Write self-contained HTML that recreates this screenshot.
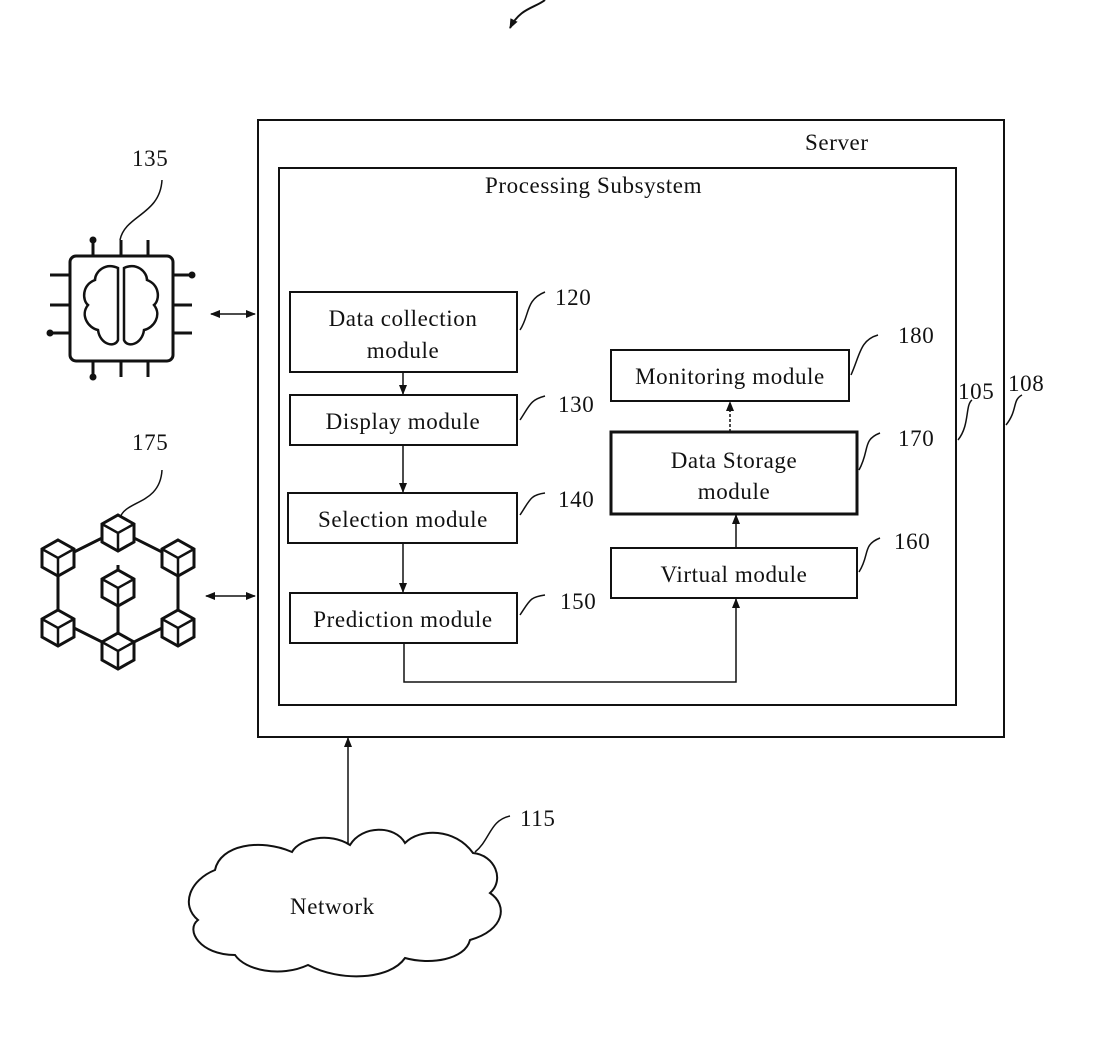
<!DOCTYPE html>
<html><head><meta charset="utf-8"><style>
html,body{margin:0;padding:0;background:#fff;}
svg text{font-family:"Liberation Serif",serif;fill:#111;}
</style></head><body>
<svg width="1116" height="1045" viewBox="0 0 1116 1045" xmlns="http://www.w3.org/2000/svg">
<defs>
<marker id="a" markerWidth="10" markerHeight="10" refX="9" refY="5" orient="auto" markerUnits="userSpaceOnUse"><path d="M0,1 L10,5 L0,9 z" fill="#111"/></marker>
<marker id="b" markerWidth="10" markerHeight="10" refX="1" refY="5" orient="auto" markerUnits="userSpaceOnUse"><path d="M10,1 L0,5 L10,9 z" fill="#111"/></marker>
</defs>
<g fill="none" stroke="#111" stroke-width="2">
<path d="M545,0 C535,8 520,8 510,28" stroke-width="2" marker-end="url(#a)"/>
<rect x="258" y="120" width="746" height="617"/>
<rect x="279" y="168" width="677" height="537"/>
<rect x="290" y="292" width="227" height="80"/>
<rect x="290" y="395" width="227" height="50"/>
<rect x="288" y="493" width="229" height="50"/>
<rect x="290" y="593" width="227" height="50"/>
<rect x="611" y="350" width="238" height="51"/>
<rect x="611" y="432" width="246" height="82" stroke-width="3"/>
<rect x="611" y="548" width="246" height="50"/>
<g stroke-width="1.5">
<line x1="403" y1="372" x2="403" y2="394" marker-end="url(#a)"/>
<line x1="403" y1="445" x2="403" y2="492" marker-end="url(#a)"/>
<line x1="403" y1="543" x2="403" y2="592" marker-end="url(#a)"/>
<polyline points="404,643 404,682 736,682 736,599" marker-end="url(#a)"/>
<line x1="736" y1="548" x2="736" y2="515" marker-end="url(#a)"/>
<line x1="730" y1="432" x2="730" y2="402" stroke-dasharray="3,2" marker-end="url(#a)"/>
<line x1="211" y1="314" x2="255" y2="314" marker-start="url(#b)" marker-end="url(#a)"/>
<line x1="206" y1="596" x2="255" y2="596" marker-start="url(#b)" marker-end="url(#a)"/>
<line x1="348" y1="843" x2="348" y2="738" marker-end="url(#a)"/>
<path d="M520,330 C530,315 525,300 545,292"/>
<path d="M520,420 C530,405 530,400 545,396"/>
<path d="M520,515 C530,500 530,495 545,493"/>
<path d="M520,615 C530,600 530,597 545,595"/>
<path d="M851,375 C860,355 860,340 878,335"/>
<path d="M859,470 C870,450 862,440 880,433"/>
<path d="M859,572 C870,555 862,545 880,538"/>
<path d="M958,440 C970,425 965,405 972,400"/>
<path d="M1006,425 C1018,410 1012,400 1022,395"/>
<path d="M475,852 C490,840 490,820 510,816"/>
<path d="M120,240 C125,215 160,215 162,180"/>
<path d="M120,518 C125,500 160,505 162,470"/>
</g>
<g stroke-width="3">
<rect x="70" y="256" width="103" height="105" rx="6"/>
<line x1="93" y1="256" x2="93" y2="240"/><line x1="121" y1="256" x2="121" y2="240"/><line x1="148" y1="256" x2="148" y2="240"/>
<line x1="93" y1="361" x2="93" y2="377"/><line x1="121" y1="361" x2="121" y2="377"/><line x1="148" y1="361" x2="148" y2="377"/>
<line x1="50" y1="275" x2="70" y2="275"/><line x1="50" y1="305" x2="70" y2="305"/><line x1="50" y1="333" x2="70" y2="333"/>
<line x1="173" y1="275" x2="192" y2="275"/><line x1="173" y1="305" x2="192" y2="305"/><line x1="173" y1="333" x2="192" y2="333"/>
<path d="M118,268 C105,262 95,272 95,280 C82,285 82,300 88,305 C80,315 88,328 98,330 C100,345 115,348 118,340 Z" stroke-width="2.5"/>
<path d="M124,268 C137,262 147,272 147,280 C160,285 160,300 154,305 C162,315 154,328 144,330 C142,345 127,348 124,340 Z" stroke-width="2.5"/>
</g>
<g fill="#111" stroke="none">
<circle cx="93" cy="240" r="3.5"/><circle cx="93" cy="377" r="3.5"/><circle cx="50" cy="333" r="3.5"/><circle cx="192" cy="275" r="3.5"/>
</g>
<g stroke-width="3">
<path d="M58,560 L118,530 L178,560 L178,620 L118,650 L58,620 Z"/>
<line x1="118" y1="565" x2="118" y2="650"/>
<g fill="#fff">
<path d="M118,515 l16,9 v18 l-16,9 l-16,-9 v-18 z"/>
<path d="M58,540 l16,9 v18 l-16,9 l-16,-9 v-18 z"/>
<path d="M178,540 l16,9 v18 l-16,9 l-16,-9 v-18 z"/>
<path d="M118,570 l16,9 v18 l-16,9 l-16,-9 v-18 z"/>
<path d="M58,610 l16,9 v18 l-16,9 l-16,-9 v-18 z"/>
<path d="M178,610 l16,9 v18 l-16,9 l-16,-9 v-18 z"/>
<path d="M118,633 l16,9 v18 l-16,9 l-16,-9 v-18 z"/>
</g>
<g stroke-width="2.5">
<path d="M102,524 l16,9 l16,-9 M118,533 v18"/>
<path d="M42,549 l16,9 l16,-9 M58,558 v18"/>
<path d="M162,549 l16,9 l16,-9 M178,558 v18"/>
<path d="M102,579 l16,9 l16,-9 M118,588 v18"/>
<path d="M42,619 l16,9 l16,-9 M58,628 v18"/>
<path d="M162,619 l16,9 l16,-9 M178,628 v18"/>
<path d="M102,642 l16,9 l16,-9 M118,651 v18"/>
</g>
</g>
<path d="M215,870 C220,845 260,838 292,852 C300,838 330,832 350,845 C362,825 395,825 405,843 C420,828 455,828 473,853 C495,855 505,880 490,893 C508,905 505,930 470,940 C465,960 430,965 405,958 C390,980 340,982 308,965 C280,978 245,970 235,955 C200,955 185,930 198,920 C180,905 190,880 215,870 Z"/>
</g>
<g font-size="23" letter-spacing="0.6">
<text x="805" y="150">Server</text>
<text x="485" y="193">Processing Subsystem</text>
<text x="403" y="326" text-anchor="middle">Data collection</text>
<text x="403" y="358" text-anchor="middle">module</text>
<text x="403" y="429" text-anchor="middle">Display module</text>
<text x="403" y="527" text-anchor="middle">Selection module</text>
<text x="403" y="627" text-anchor="middle">Prediction module</text>
<text x="730" y="384" text-anchor="middle">Monitoring module</text>
<text x="734" y="468" text-anchor="middle">Data Storage</text>
<text x="734" y="499" text-anchor="middle">module</text>
<text x="734" y="582" text-anchor="middle">Virtual module</text>
<text x="290" y="914">Network</text>
<text x="555" y="305">120</text>
<text x="558" y="412">130</text>
<text x="558" y="507">140</text>
<text x="560" y="609">150</text>
<text x="898" y="343">180</text>
<text x="898" y="446">170</text>
<text x="894" y="549">160</text>
<text x="958" y="399">105</text>
<text x="1008" y="391">108</text>
<text x="520" y="826">115</text>
<text x="132" y="166">135</text>
<text x="132" y="450">175</text>
</g>
</svg>
</body></html>
